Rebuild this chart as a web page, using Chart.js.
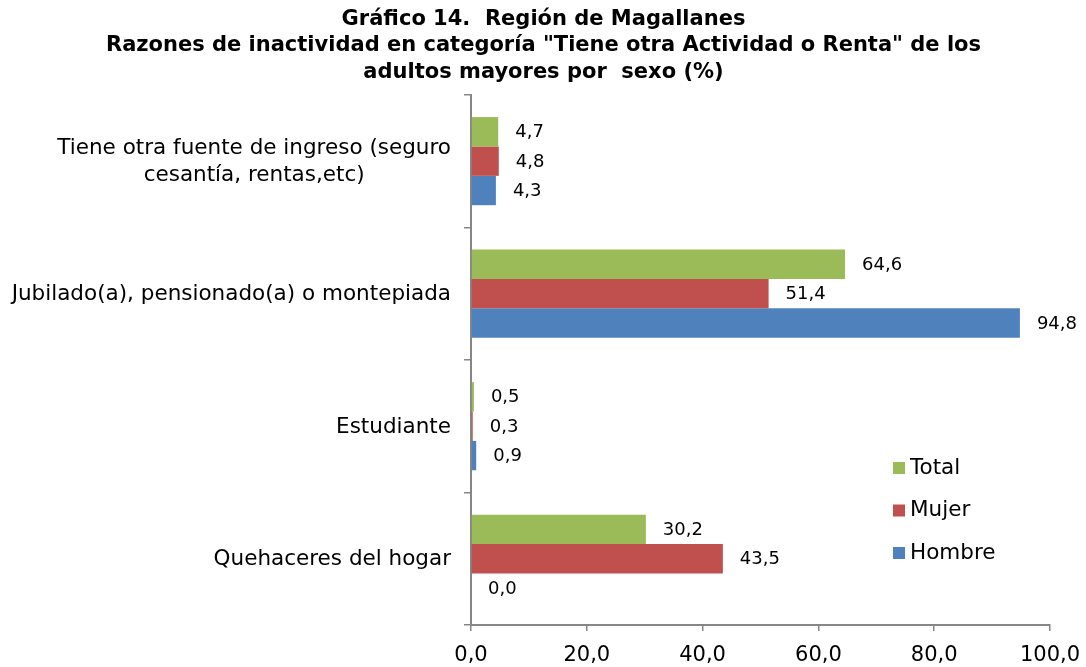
<!DOCTYPE html>
<html>
<head>
<meta charset="utf-8">
<script src="https://cdn.jsdelivr.net/npm/chart.js@4"></script>
<style>
  body { margin: 0; background: #fff; }
  #wrap { width: 1086px; height: 667px; }
</style>
</head>
<body>
<div id="wrap"><canvas id="chart" width="1086" height="667"></canvas></div>
<script>
const categories = [
  ["Tiene otra fuente de ingreso (seguro", "cesantía, rentas,etc)"],
  "Jubilado(a), pensionado(a) o montepiada",
  "Estudiante",
  "Quehaceres del hogar",
];
const totalValues = [4.7, 64.6, 0.5, 30.2];
const mujerValues = [4.8, 51.4, 0.3, 43.5];
const hombreValues = [4.3, 94.8, 0.9, 0.0];
const xTickValues = [0, 20, 40, 60, 80, 100];
const titleLines = [
  "Gráfico 14.  Región de Magallanes",
  "Razones de inactividad en categoría \"Tiene otra Actividad o Renta\" de los",
  "adultos mayores por  sexo (%)",
];

const FONT = "'DejaVu Sans', Verdana, sans-serif";
const AXIS_GRAY = "#868686";
const fmt = (v) => v.toFixed(1).replace(".", ",");

// value labels at the end of each bar
const valueLabels = {
  id: "valueLabels",
  afterDatasetsDraw(chart) {
    const ctx = chart.ctx;
    ctx.save();
    ctx.font = "18px " + FONT;
    ctx.fillStyle = "#000";
    ctx.textBaseline = "middle";
    ctx.textAlign = "left";
    chart.data.datasets.forEach((ds, i) => {
      chart.getDatasetMeta(i).data.forEach((bar, j) => {
        ctx.fillText(fmt(ds.data[j]), bar.x + 17, bar.y + 1);
      });
    });
    ctx.restore();
  },
};

// category labels: block right-aligned, lines centred inside the block
const categoryLabels = {
  id: "categoryLabels",
  afterDraw(chart) {
    const ctx = chart.ctx;
    const ys = chart.scales.y;
    ctx.save();
    ctx.font = "21.5px " + FONT;
    ctx.fillStyle = "#000";
    ctx.textBaseline = "middle";
    ctx.textAlign = "center";
    categories.forEach((label, i) => {
      const lines = Array.isArray(label) ? label : [label];
      const widest = Math.max(...lines.map((l) => ctx.measureText(l).width));
      const cx = ys.right - 20 - widest / 2;
      const y = ys.getPixelForValue(i) + 1;
      lines.forEach((line, k) => {
        ctx.fillText(line, cx, y + (k - (lines.length - 1) / 2) * 27);
      });
    });
    ctx.restore();
  },
};

// legend inside the plot, lower right
const innerLegend = {
  id: "innerLegend",
  afterDraw(chart) {
    const ctx = chart.ctx;
    ctx.save();
    ctx.font = "21.5px " + FONT;
    ctx.textBaseline = "middle";
    ctx.textAlign = "left";
    chart.data.datasets.forEach((ds, i) => {
      const y = 468 + i * 42.5;
      ctx.fillStyle = ds.backgroundColor;
      ctx.fillRect(893, y - 6, 12, 12);
      ctx.fillStyle = "#000";
      ctx.fillText(ds.label, 910, y);
    });
    ctx.restore();
  },
};

new Chart(document.getElementById("chart"), {
  type: "bar",
  data: {
    labels: categories,
    datasets: [
      { label: "Total", data: totalValues, backgroundColor: "#9BBB59" },
      { label: "Mujer", data: mujerValues, backgroundColor: "#C0504D" },
      { label: "Hombre", data: hombreValues, backgroundColor: "#4F81BD" },
    ],
  },
  plugins: [valueLabels, categoryLabels, innerLegend],
  options: {
    indexAxis: "y",
    responsive: false,
    animation: false,
    categoryPercentage: 0.665,
    barPercentage: 1,
    layout: { padding: { left: 37, right: 36, top: 0, bottom: 0 } },
    scales: {
      x: {
        min: 0,
        max: 100,
        afterBuildTicks(scale) {
          scale.ticks = xTickValues.map((v) => ({ value: v }));
        },
        afterFit(scale) {
          scale.height = 42;
          scale.paddingLeft = 0;
          scale.paddingRight = 0;
        },
        ticks: {
          color: "#000",
          font: { family: FONT, size: 21 },
          padding: 12,
          maxRotation: 0,
          callback: (v) => fmt(v),
        },
        grid: {
          drawOnChartArea: false,
          drawTicks: true,
          tickLength: 6,
          color: AXIS_GRAY,
          lineWidth: 1.5,
        },
        border: { display: true, color: AXIS_GRAY, width: 2 },
      },
      y: {
        afterFit(scale) {
          scale.width = 434;
        },
        ticks: { display: false },
        grid: {
          offset: true,
          drawOnChartArea: false,
          drawTicks: true,
          tickLength: 7,
          color: AXIS_GRAY,
          lineWidth: 1.5,
        },
        border: { display: true, color: AXIS_GRAY, width: 2 },
      },
    },
    plugins: {
      legend: { display: false },
      tooltip: { enabled: false },
      title: {
        display: true,
        text: titleLines,
        color: "#000",
        font: { family: FONT, size: 21, weight: "bold", lineHeight: 1.26 },
        padding: { top: 6, bottom: 9.5 },
      },
    },
  },
});
</script>
</body>
</html>
